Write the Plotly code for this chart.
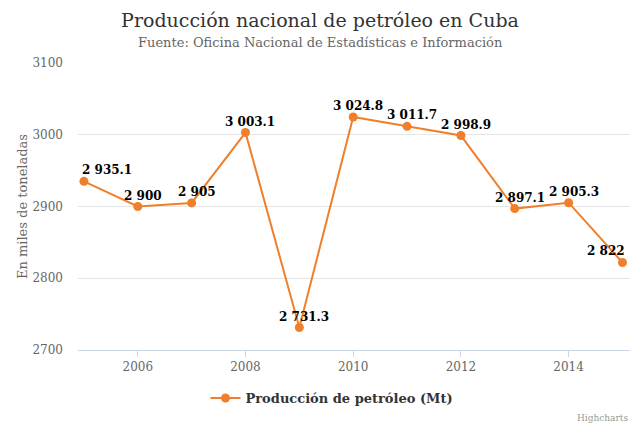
import plotly.graph_objects as go

years = [2005, 2006, 2007, 2008, 2009, 2010, 2011, 2012, 2013, 2014, 2015]
production = [2935.1, 2900, 2905, 3003.1, 2731.3, 3024.8, 3011.7, 2998.9, 2897.1, 2905.3, 2822]
x_ticks = [2006, 2008, 2010, 2012, 2014]
y_ticks = [2700, 2800, 2900, 3000, 3100]

def fmt(v):
    s = f"{v:,.1f}" if v != int(v) else f"{int(v):,}"
    return s.replace(",", " ")

labels = [fmt(v) for v in production]

FONT = "DejaVu Serif"
ORANGE = "#f07f2b"
LABEL_FONT = dict(family=FONT, size=12, color="#000000", weight="bold")

fig = go.Figure()
fig.add_trace(go.Scatter(
    x=years, y=production, mode="lines+markers",
    name="Producción de petróleo (Mt)",
    line=dict(color=ORANGE, width=2),
    marker=dict(color=ORANGE, size=9),
    cliponaxis=False,
))

label_annotations = []
n = len(years)
for i, (xv, yv, t) in enumerate(zip(years, production, labels)):
    if i == 0:
        anchor, xs = "left", -4
    elif i == n - 1:
        anchor, xs = "right", 5
    else:
        anchor, xs = "center", 5
    label_annotations.append(dict(
        text=t, x=xv, y=yv, xref="x", yref="y", showarrow=False,
        xanchor=anchor, yanchor="middle", xshift=xs, yshift=11,
        font=LABEL_FONT))

fig.update_layout(
    width=640, height=427,
    margin=dict(l=78, r=10, t=63, b=77),
    paper_bgcolor="white", plot_bgcolor="white",
    font=dict(family=FONT, color="#666666", size=12),
    title=dict(text="Producción nacional de petróleo en Cuba",
               x=0.5, xanchor="center", y=1 - 20 / 427, yanchor="middle",
               font=dict(family=FONT, size=19, color="#333333")),
    showlegend=True,
    legend=dict(orientation="h", x=(332 - 78) / 552, xanchor="center", y=-48 / 287, yanchor="middle",
                font=dict(family=FONT, size=13, color="#333333", weight="bold")),
    xaxis=dict(range=[2004.89, 2015.14], tickvals=x_ticks, showgrid=False,
               showline=True, linecolor="#ccd6eb", linewidth=1,
               ticks="outside", ticklen=6, tickcolor="#ccd6eb",
               tickfont=dict(family=FONT, size=12, color="#666666"), zeroline=False),
    yaxis=dict(range=[2700, 3100], tickvals=y_ticks, showgrid=True, gridcolor="#e6e6e6",
               zeroline=False, showline=False, ticklabelstandoff=14,
               tickfont=dict(family=FONT, size=12, color="#666666"),
               title=dict(text="En miles de toneladas", standoff=1,
                          font=dict(family=FONT, size=13, color="#666666"))),
    annotations=[
        dict(text="Fuente: Oficina Nacional de Estadísticas e Información",
             xref="paper", yref="paper", x=(320 - 78) / 552, xanchor="center",
             y=1 + (63 - 43) / 287, yanchor="middle", showarrow=False,
             font=dict(family=FONT, size=13, color="#666666")),
        dict(text="Highcharts", xref="paper", yref="paper", x=1.0, xanchor="right",
             y=-(418 - 350) / 287, yanchor="middle", showarrow=False,
             font=dict(family=FONT, size=9, color="#999999")),
    ] + label_annotations,
)

fig.write_html("out.html", config={"displayModeBar": False},
               post_script="document.body.style.margin='0';document.body.style.overflow='hidden';")
